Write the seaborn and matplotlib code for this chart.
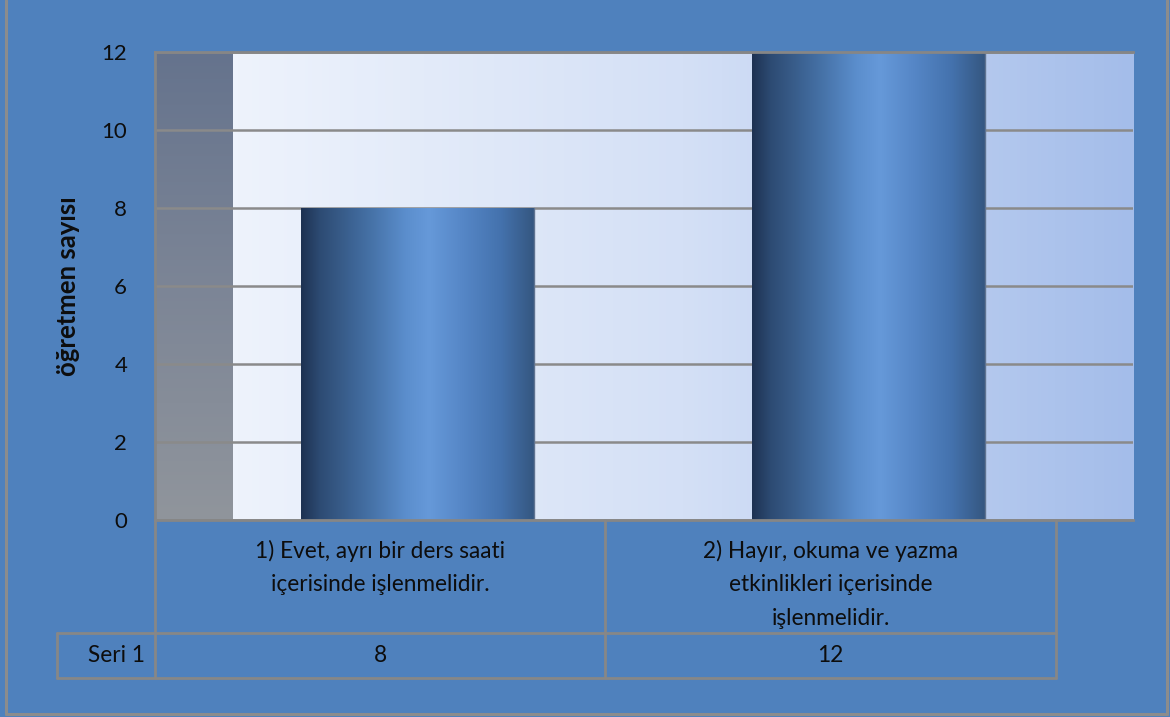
import numpy as np
import matplotlib
matplotlib.use("Agg")
import matplotlib.pyplot as plt
from matplotlib.colors import LinearSegmentedColormap
from matplotlib.lines import Line2D
import matplotlib.transforms as mtransforms
import seaborn as sns

# ---- data -------------------------------------------------------------
categories = [
    "1) Evet, ayrı bir ders saati\niçerisinde işlenmelidir.",
    "2) Hayır, okuma ve yazma\netkinlikleri içerisinde\nişlenmelidir.",
]
values = [8, 12]
series_name = "Seri 1"
y_ticks = [0, 2, 4, 6, 8, 10, 12]
y_label = "öğretmen sayısı"

# ---- style ------------------------------------------------------------
sns.set_style("white")
plt.rcParams["font.family"] = ["Lato", "DejaVu Sans"]

BG = "#4F81BD"
GRID = "#8A8A8A"
TXT = "#0D0D0D"
FS = 16.3

W, H = 1170, 717
fig = plt.figure(figsize=(W / 100, H / 100), dpi=100, facecolor=BG)

# outer frame of the chart area
for xs, ys in [([6, 6], [0, 714]), ([6, 1167], [714, 714]), ([1167, 1167], [0, 714])]:
    fig.add_artist(Line2D([x / W for x in xs], [1 - y / H for y in ys],
                          transform=fig.transFigure, color="#8C8C8C", lw=2.2))

ax = fig.add_axes([155 / W, (H - 520) / H, (1133 - 155) / W, (520 - 52) / H])
ax.set_facecolor("none")

# bars through seaborn on a categorical axis
sns.barplot(x=list(range(len(values))), y=values, ax=ax, width=0.517,
            color="#4F81BD", zorder=3)

XMIN, XMAX = -0.583, 1.588
WALL = -0.41
ax.set_xlim(XMIN, XMAX)
ax.set_ylim(0, max(y_ticks))

# back wall: horizontal light-blue gradient
wall_cmap = LinearSegmentedColormap.from_list("wall", ["#EEF3FC", "#D4E0F6", "#A4BDEA"])
ax.imshow(np.linspace(0, 1, 256)[None, :], cmap=wall_cmap, aspect="auto",
          extent=(WALL, XMAX, 0, max(y_ticks)), zorder=0, interpolation="bicubic")
# side wall: vertical grey gradient
side_cmap = LinearSegmentedColormap.from_list("side", ["#65738D", "#7C8596", "#90959C"])
ax.imshow(np.linspace(0, 1, 256)[:, None], cmap=side_cmap, aspect="auto",
          extent=(XMIN, WALL, 0, max(y_ticks)), zorder=0, interpolation="bicubic")

# horizontal gridlines
ax.set_yticks(y_ticks)
for t in y_ticks:
    ax.axhline(t, color=GRID, lw=1.8, zorder=1)

# cylinder-like shading on each bar
bar_cmap = LinearSegmentedColormap.from_list("bar", [
    (0.0, "#1E3252"), (0.08, "#2D4B73"), (0.3, "#4672A7"), (0.45, "#5B8ECD"),
    (0.55, "#6699D9"), (0.7, "#5586C6"), (0.86, "#4472AD"), (1.0, "#355781")])
for p in ax.patches:
    x0, y0 = p.get_x(), p.get_y()
    w, h = p.get_width(), p.get_height()
    p.set_facecolor("none")
    p.set_edgecolor("none")
    ax.imshow(np.linspace(0, 1, 256)[None, :], cmap=bar_cmap, aspect="auto",
              extent=(x0, x0 + w, y0, y0 + h), zorder=3, interpolation="bicubic")
    ax.plot([x0 + w, x0 + w], [y0, y0 + h], color="#5F7391", lw=1.0, zorder=4)

ax.set_xlim(XMIN, XMAX)
ax.set_ylim(0, max(y_ticks))

for s in ["left", "top", "bottom"]:
    ax.spines[s].set_color("#868686")
    ax.spines[s].set_linewidth(2.0)
    ax.spines[s].set_zorder(5)
ax.spines["right"].set_visible(False)

ax.tick_params(axis="y", length=0, pad=20, labelsize=16, labelcolor=TXT)
ax.set_xticks([])
ax.set_xlabel("")
ax.set_ylabel("")

fig.text(68 / W, 1 - 286 / H, y_label, rotation=90, ha="center", va="center",
         fontsize=18.5, fontweight="bold", color=TXT)

# ---- data table below the plot ----------------------------------------
trans = mtransforms.blended_transform_factory(ax.transData, ax.transAxes)
ax_h_px = 520 - 52
row1 = -113 / ax_h_px
row2 = -158 / ax_h_px
shift = 0.0833
left_edge = -0.800

tbl_kw = dict(transform=trans, color="#878787", lw=2.0, clip_on=False, zorder=6)
col_edges = [i - 0.5 - shift for i in range(len(categories))] + [len(categories) - 0.5 - shift]
for xe in col_edges:
    ax.add_line(Line2D([xe, xe], [0, row2], **tbl_kw))
ax.add_line(Line2D([left_edge, left_edge], [row1, row2], **tbl_kw))
ax.add_line(Line2D([left_edge, col_edges[-1]], [row1, row1], **tbl_kw))
ax.add_line(Line2D([left_edge, col_edges[-1]], [row2, row2], **tbl_kw))

for i, (cat, val) in enumerate(zip(categories, values)):
    cx = i - shift
    ax.text(cx, -20 / ax_h_px, cat, transform=trans, ha="center", va="top",
            fontsize=FS, color=TXT, linespacing=1.72, clip_on=False)
    ax.text(cx, (row1 + row2) / 2, str(val), transform=trans, ha="center",
            va="center", fontsize=FS, color=TXT, clip_on=False)
ax.text(col_edges[0] - 0.022, (row1 + row2) / 2, series_name, transform=trans,
        ha="right", va="center", fontsize=FS, color=TXT, clip_on=False)

fig.savefig("out.png", dpi=100, facecolor=BG)
